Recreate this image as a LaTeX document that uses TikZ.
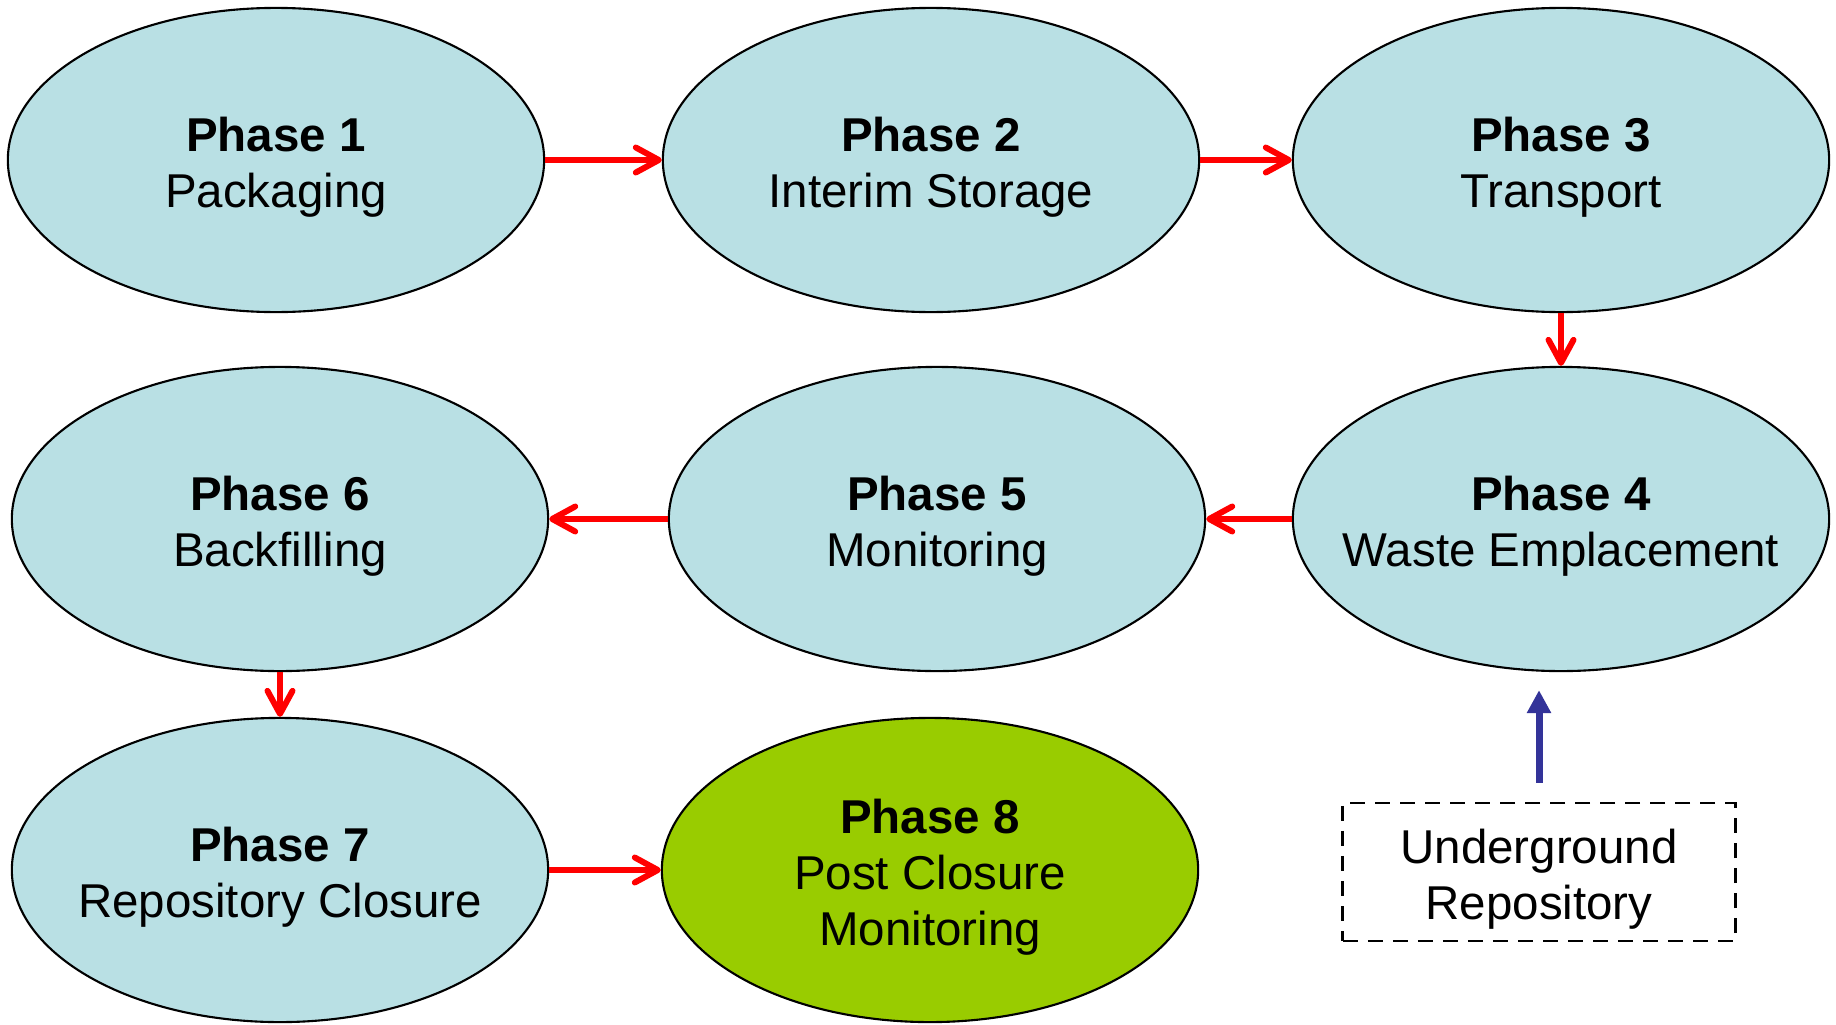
\documentclass[tikz,border=0pt]{standalone}
\usepackage{fontspec}
\setmainfont{Liberation Sans}
\usetikzlibrary{shapes.geometric}
\usetikzlibrary{arrows.meta}
\definecolor{phaseblue}{HTML}{B9E0E4}
\definecolor{phasegreen}{HTML}{99CC00}
\definecolor{flowred}{HTML}{FF0000}
\definecolor{navyarrow}{HTML}{333399}
\newcommand{\topstrut}{\rule{0pt}{14pt}}

\begin{document}
\begin{tikzpicture}[x=0.01cm, y=-0.01cm,
	phasetext/.style={align=center, font=\fontsize{13.5}{16}\selectfont},
	phase/.style={phasetext, ellipse, draw=black, line width=0.6pt, fill=phaseblue, minimum width=5.36cm, minimum height=3.04cm, inner xsep=-5mm, inner ysep=0pt},
	flow/.style={draw=flowred, line width=1.7pt, -{Straight Barb[length=2.3mm, width=2.5mm, round]}}]
					\useasboundingbox (0,0) rectangle (1836,1024);
					% first row
					\node[phase] (p1) at (276,160) {\topstrut\textbf{Phase 1}\\Packaging};
					\node[phase] (p2) at (931,160) {\topstrut\textbf{Phase 2}\\Interim Storage};
					\node[phase] (p3) at (1561,160) {\topstrut\textbf{Phase 3}\\Transport};
					% second row
					\node[phase] (p4) at (1561,519) {\topstrut\textbf{Phase 4}\\Waste Emplacement};
					\node[phase] (p5) at (937,519) {\topstrut\textbf{Phase 5}\\Monitoring};
					\node[phase] (p6) at (280,519) {\topstrut\textbf{Phase 6}\\Backfilling};
					% third row
					\node[phase] (p7) at (280,870) {\topstrut\textbf{Phase 7}\\Repository Closure};
					\node[phase, fill=phasegreen] (p8) at (930,870) {\topstrut\textbf{Phase 8}\\Post Closure\\Monitoring};
					\node[phasetext, draw, line width=0.8pt, dash pattern=on 1.5mm off 1mm, minimum width=3.92cm, minimum height=1.38cm, inner sep=0pt] (ugr) at (1539,872) {\topstrut Underground\\Repository};
					\draw[flow] (p1)--(p2);
					\draw[flow] (p2)--(p3);
					\draw[flow] (p3)--(p4);
					\draw[flow] (p4)--(p5);
					\draw[flow] (p5)--(p6);
					\draw[flow] (p6)--(p7);
					\draw[flow] (p7)--(p8);
					\draw[navyarrow, line width=2pt, -{Triangle[length=2.3mm, width=2.3mm]}, shorten <=1.9mm, shorten >=1.8mm] (ugr.north)--(ugr.north |- p4.south);
			\end{tikzpicture}
\end{document}
